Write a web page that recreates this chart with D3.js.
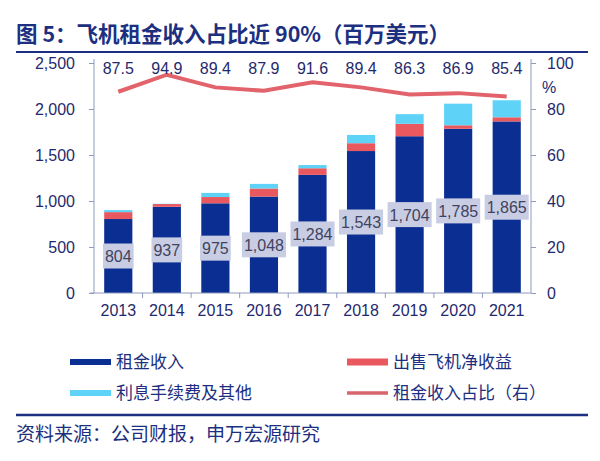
<!DOCTYPE html>
<html lang="zh">
<head>
  <meta charset="UTF-8" />
  <title>飞机租金收入占比</title>
  <style>
    body { margin: 0; background: #ffffff; }
    svg { display: block; font-family: "Liberation Sans", Arial, "Noto Sans CJK SC", sans-serif; }
    .cjk { font-family: "Noto Sans CJK SC", sans-serif; }
    .axis text { fill: #1f2a6e; font-size: 16px; }
    .axis path, .axis line { stroke: #8e9bbd; }
  </style>
  <script src="https://d3js.org/d3.v7.min.js"></script>
</head>
<body>
  <svg id="chart" width="600" height="461"></svg>
  <script>
    const years = ["2013", "2014", "2015", "2016", "2017", "2018", "2019", "2020", "2021"];
    const rental = [804, 937, 975, 1048, 1284, 1543, 1704, 1785, 1865];
    const saleGain = [75, 30, 68, 88, 72, 85, 135, 38, 45];
    const interestOther = [22, 3, 45, 50, 35, 90, 105, 235, 185];
    const rentalShare = [87.5, 94.9, 89.4, 87.9, 91.6, 89.4, 86.3, 86.9, 85.4];
    const leftTicks = [0, 500, 1000, 1500, 2000, 2500];
    const rightTicks = [0, 20, 40, 60, 80, 100];

    const svg = d3.select("#chart");
    const navy = "#1c2f80";
    const colors = { rental: "#0a2e91", sale: "#e8585e", other: "#5fd3f7", line: "#e2636b" };

    // title and rules
    svg.append("text").attr("class", "cjk")
      .attr("x", 16).attr("y", 42)
      .attr("font-size", 21.5).attr("font-weight", "bold").attr("fill", navy)
      .text("图 5：飞机租金收入占比近 90%（百万美元）");
    svg.append("line").attr("x1", 16).attr("x2", 588).attr("y1", 52).attr("y2", 52)
      .attr("stroke", navy).attr("stroke-width", 2);
    svg.append("line").attr("x1", 16).attr("x2", 588).attr("y1", 415).attr("y2", 415)
      .attr("stroke", navy).attr("stroke-width", 2.5);
    svg.append("text").attr("class", "cjk")
      .attr("x", 16).attr("y", 441)
      .attr("font-size", 19).attr("fill", navy)
      .text("资料来源：公司财报，申万宏源研究");

    const pL = 94, pR = 531, pT = 63, pB = 293;
    const x = d3.scaleBand().domain(years).range([pL, pR]).paddingInner(0.42).paddingOuter(0.21);
    const band = d3.scaleBand().domain(years).range([pL, pR]);
    const y = d3.scaleLinear().domain([0, 2500]).range([pB, pT]);
    const y2 = d3.scaleLinear().domain([0, 100]).range([pB, pT]);

    // stacked bars
    const rows = years.map((yr, i) => ({ year: yr, rental: rental[i], sale: saleGain[i], other: interestOther[i] }));
    const stack = d3.stack().keys(["rental", "sale", "other"])(rows);
    svg.append("g").selectAll("g").data(stack).join("g")
      .attr("fill", d => colors[d.key])
      .selectAll("rect").data(d => d).join("rect")
      .attr("x", d => x(d.data.year))
      .attr("width", x.bandwidth())
      .attr("y", d => y(d[1]))
      .attr("height", d => y(d[0]) - y(d[1]));

    // rental labels with boxes
    const lab = svg.append("g");
    rows.forEach(d => {
      const cx = x(d.year) + x.bandwidth() / 2;
      const cy = y(d.rental / 2);
      const t = lab.append("text")
        .attr("x", cx).attr("y", cy + 6)
        .attr("text-anchor", "middle")
        .attr("font-size", 16).attr("fill", "#40435e")
        .text(d3.format(",")(d.rental));
      const w = Math.max(x.bandwidth() + 2, t.node().getComputedTextLength() + 4);
      lab.insert("rect", "text")
        .attr("x", cx - w / 2).attr("y", cy - 12.5)
        .attr("width", w).attr("height", 25)
        .attr("fill", "#c9cde4");
    });

    // axes
    svg.append("g").attr("class", "axis")
      .attr("transform", `translate(${pL},0)`)
      .call(d3.axisLeft(y).tickValues(leftTicks).tickFormat(d3.format(",")).tickSize(5).tickPadding(14))
      .call(g => g.select(".domain").attr("d", `M0,${pT - 4}V${pB}`));
    svg.append("g").attr("class", "axis")
      .attr("transform", `translate(${pR},0)`)
      .call(d3.axisRight(y2).tickValues(rightTicks).tickSize(5).tickPadding(11))
      .call(g => g.select(".domain").attr("d", `M0,${pT - 4}V${pB}`));
    svg.append("text").attr("x", 542).attr("y", 93)
      .attr("font-size", 16).attr("fill", "#1f2a6e").text("%");

    const xAxis = svg.append("g").attr("class", "axis")
      .attr("transform", `translate(0,${pB})`)
      .call(d3.axisBottom(band).tickSize(0).tickPadding(12))
      .call(g => g.select(".domain").attr("d", `M${pL - 4},0H${pR}`));
    xAxis.selectAll(".tick text").attr("font-size", 17);
    years.slice(1).forEach(yr => {
      xAxis.append("line").attr("x1", band(yr)).attr("x2", band(yr))
        .attr("y1", 0).attr("y2", 5).attr("stroke", "#8e9bbd");
    });

    // share line
    const line = d3.line()
      .x((d, i) => band(years[i]) + band.bandwidth() / 2)
      .y(d => y2(d));
    svg.append("path").datum(rentalShare)
      .attr("d", line).attr("fill", "none")
      .attr("stroke", colors.line).attr("stroke-width", 4);
    svg.append("g").selectAll("text").data(rentalShare).join("text")
      .attr("x", (d, i) => band(years[i]) + band.bandwidth() / 2)
      .attr("y", 74)
      .attr("text-anchor", "middle")
      .attr("font-size", 16).attr("fill", "#1f2a6e")
      .text(d => d.toFixed(1));

    // legend
    const legend = [
      { label: "租金收入", color: colors.rental, h: 6, x: 70, y: 362 },
      { label: "出售飞机净收益", color: colors.sale, h: 7, x: 347, y: 362 },
      { label: "利息手续费及其他", color: colors.other, h: 6, x: 70, y: 393 },
      { label: "租金收入占比（右）", color: "#d8646d", h: 3.5, x: 347, y: 393 }
    ];
    const lg = svg.append("g");
    legend.forEach(l => {
      lg.append("rect").attr("x", l.x).attr("y", l.y - l.h / 2)
        .attr("width", 41).attr("height", l.h).attr("fill", l.color);
      lg.append("text").attr("class", "cjk")
        .attr("x", l.x + 46).attr("y", l.y + 6)
        .attr("font-size", 17).attr("fill", navy)
        .text(l.label);
    });
  </script>
</body>
</html>
